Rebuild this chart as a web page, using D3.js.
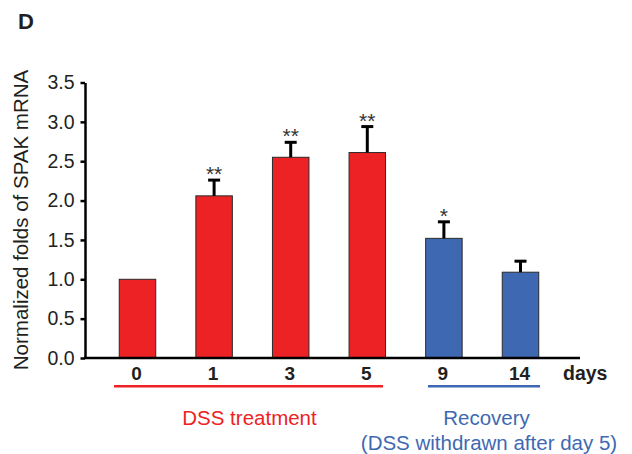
<!DOCTYPE html>
<html>
<head>
<meta charset="utf-8">
<script src="https://cdn.jsdelivr.net/npm/d3@7"></script>
<style>
  html, body { margin: 0; padding: 0; background: #fff; }
  svg { display: block; font-family: "Liberation Sans", Arial, Helvetica, sans-serif; }
</style>
</head>
<body>
<svg id="chart" width="632" height="454"></svg>
<script>
// ---- data ----
const categories = ["0", "1", "3", "5", "9", "14"];
const means      = [1.00, 2.06, 2.55, 2.61, 1.52, 1.09];
const errors     = [0.00, 0.20, 0.19, 0.33, 0.21, 0.14];
const stars      = ["", "**", "**", "**", "*", ""];
const phase      = ["dss", "dss", "dss", "dss", "rec", "rec"];
const yTicks     = [0, 0.5, 1.0, 1.5, 2.0, 2.5, 3.0, 3.5];
const yTitle     = "Normalized folds of SPAK mRNA";
const xUnit      = "days";
const groupLabels = {
  dss: ["DSS treatment"],
  rec: ["Recovery", "(DSS withdrawn after day 5)"]
};

// ---- styling ----
const RED = "#ed2224", BLUE = "#3e69b2", TXT = "#231f20";
const svg = d3.select("#chart");

const y = d3.scaleLinear().domain([0, 3.5]).range([358, 82.5]);
const x = d3.scalePoint().domain(categories).range([137.5, 520.5]);
const barW = 36.5;
const color = i => phase[i] === "dss" ? RED : BLUE;

// panel label
svg.append("text").attr("x", 18).attr("y", 28.5)
  .attr("font-size", 22).attr("font-weight", "bold").attr("fill", TXT).text("D");

// bars
svg.append("g").selectAll("rect").data(categories).join("rect")
  .attr("x", d => x(d) - barW / 2)
  .attr("width", barW)
  .attr("y", (d, i) => y(means[i]))
  .attr("height", (d, i) => y(0) - y(means[i]))
  .attr("fill", (d, i) => color(i))
  .attr("stroke", "#2a2a2a").attr("stroke-width", 1);

// error bars
const eg = svg.append("g").attr("stroke", "#000").attr("stroke-width", 3);
categories.forEach((c, i) => {
  if (!errors[i]) return;
  const cx = x(c), top = y(means[i] + errors[i]);
  eg.append("line").attr("x1", cx).attr("x2", cx).attr("y1", y(means[i])).attr("y2", top);
  eg.append("line").attr("x1", cx - 6).attr("x2", cx + 6).attr("y1", top).attr("y2", top);
});

// significance stars
svg.append("g").selectAll("text").data(categories).join("text")
  .attr("x", d => x(d))
  .attr("y", (d, i) => y(means[i] + errors[i]) + 1)
  .attr("text-anchor", "middle").attr("font-size", 21).attr("fill", "#333")
  .text((d, i) => stars[i]);

// y axis
const yAxis = svg.append("g").attr("transform", "translate(85,0)")
  .call(d3.axisLeft(y).tickValues(yTicks).tickFormat(d3.format(".1f"))
        .tickSize(4.5).tickSizeOuter(0).tickPadding(6));
yAxis.select(".domain").attr("stroke", "#000").attr("stroke-width", 2.5);
yAxis.selectAll(".tick line").attr("stroke", "#000").attr("stroke-width", 2.5);
yAxis.selectAll(".tick text").attr("font-size", 19.5).attr("fill", TXT)
  .attr("font-family", "Liberation Sans, Arial, sans-serif");

// x axis baseline
svg.append("line").attr("x1", 84).attr("x2", 580).attr("y1", y(0)).attr("y2", y(0))
  .attr("stroke", "#000").attr("stroke-width", 2.5);

// x tick labels
svg.append("g").selectAll("text").data(categories).join("text")
  .attr("x", d => x(d) - 1).attr("y", 380)
  .attr("text-anchor", "middle").attr("font-size", 19).attr("font-weight", "bold")
  .attr("fill", TXT).text(d => d);
svg.append("text").attr("x", 563).attr("y", 380)
  .attr("font-size", 19.5).attr("font-weight", "bold").attr("fill", TXT).text(xUnit);

// y title
svg.append("text").attr("transform", "translate(27.5,220) rotate(-90)")
  .attr("text-anchor", "middle").attr("font-size", 20.5).attr("fill", TXT).text(yTitle);

// group underlines
svg.append("line").attr("x1", 114).attr("x2", 383).attr("y1", 386.3).attr("y2", 386.3)
  .attr("stroke", RED).attr("stroke-width", 2.6);
svg.append("line").attr("x1", 428).attr("x2", 540).attr("y1", 386.3).attr("y2", 386.3)
  .attr("stroke", BLUE).attr("stroke-width", 2.6);

// group labels
svg.append("text").attr("x", 249.5).attr("y", 425).attr("text-anchor", "middle")
  .attr("font-size", 20.5).attr("fill", RED).text(groupLabels.dss[0]);
svg.append("text").attr("x", 486.5).attr("y", 425).attr("text-anchor", "middle")
  .attr("font-size", 20.5).attr("fill", BLUE).text(groupLabels.rec[0]);
svg.append("text").attr("x", 489).attr("y", 449.5).attr("text-anchor", "middle")
  .attr("font-size", 20.5).attr("fill", BLUE).text(groupLabels.rec[1]);
</script>
</body>
</html>
